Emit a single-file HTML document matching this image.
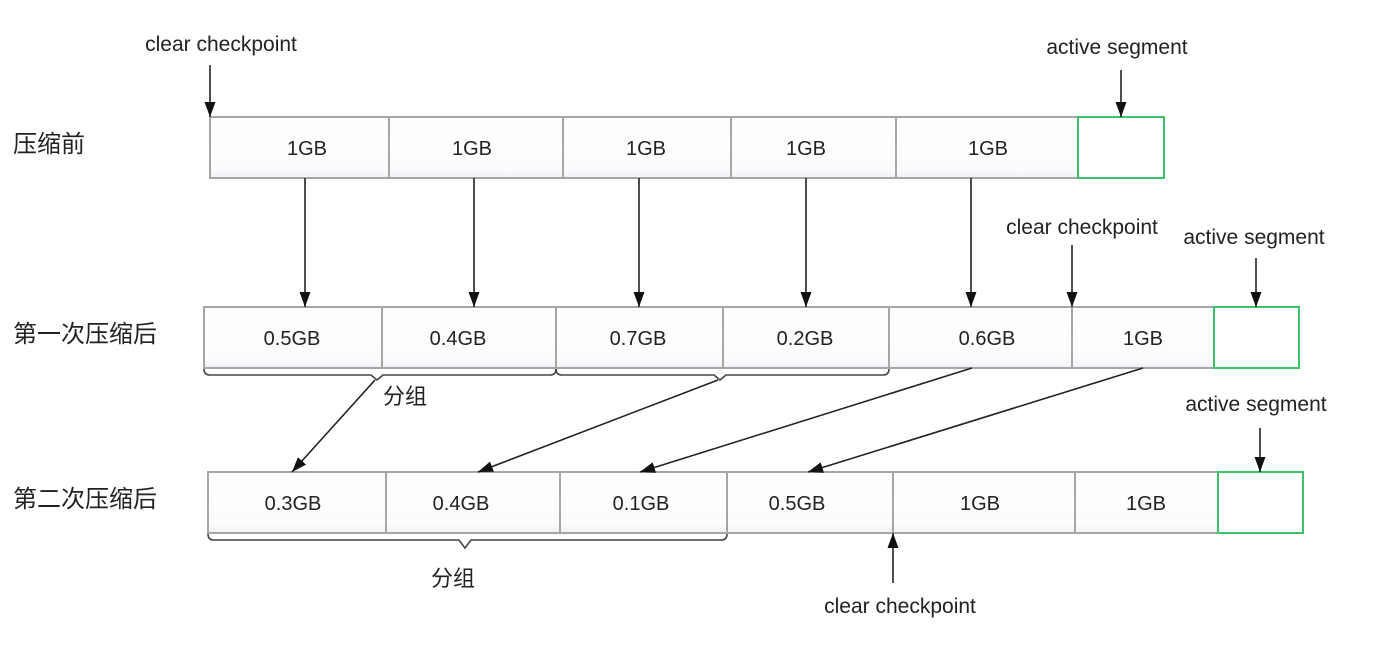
<!DOCTYPE html>
<html><head><meta charset="utf-8"><style>
html,body{margin:0;padding:0;background:#fff;}
svg{display:block;font-family:"Liberation Sans","Noto Sans CJK SC",sans-serif;}
</style></head><body>
<svg id="c" width="1386" height="652" viewBox="0 0 1386 652">
<defs>
<marker id="ah" markerWidth="15" markerHeight="11" refX="15" refY="5.5" orient="auto" markerUnits="userSpaceOnUse" viewBox="0 0 15 11">
<path d="M0,0 L15,5.5 L0,11 Z" fill="#111"/>
</marker>
<linearGradient id="bg" x1="0" y1="0" x2="0" y2="1"><stop offset="0" stop-color="#fff"/><stop offset="0.85" stop-color="#fbfcfd"/><stop offset="1" stop-color="#eef1f5"/></linearGradient>
</defs>
<g id="rows"></g>
<g id="notes"></g>
</svg>
<script>
const rowNames=["压缩前","第一次压缩后","第二次压缩后"];
const rowLabels=[["1GB","1GB","1GB","1GB","1GB"],["0.5GB","0.4GB","0.7GB","0.2GB","0.6GB","1GB"],["0.3GB","0.4GB","0.1GB","0.5GB","1GB","1GB"]];
const rowEdges=[[210,389,563,731,896,1078,1164],[204,382,556,723,889,1072,1214,1299],[208,386,560,727,893,1075,1218,1303]];
const rowText=[[307,472,646,806,988],[292,458,638,805,987,1143],[293,461,641,797,980,1146]];
const rowTop=[117,307,472];
const H=61;
const NS="http://www.w3.org/2000/svg";
const svg=document.getElementById('c');
const rows=document.getElementById('rows');
const notes=document.getElementById('notes');
function mk(tag,attrs,parent){const e=document.createElementNS(NS,tag);for(const k in attrs)e.setAttribute(k,attrs[k]);(parent||svg).appendChild(e);return e;}
rowNames.forEach((n,r)=>{
  const g=mk('g',{},rows);
  
  
  const t=mk('text',{x:13,y:rowTop[r]+35,'font-size':24,fill:'#222'},g);
  t.textContent=n;
  
  
  const ed=rowEdges[r], y=rowTop[r];
  rowLabels[r].forEach((lab,i)=>{
    const rc=mk('rect',{x:ed[i],y:y,width:ed[i+1]-ed[i],height:H,fill:'url(#bg)',stroke:'#a6a6a6','stroke-width':2},g);
    
    
    const tx=mk('text',{x:rowText[r][i],y:y+38,'font-size':20,fill:'#222','text-anchor':'middle'},g);
    tx.textContent=lab;
    
    
  });
  const n2=ed.length;
  const act=mk('rect',{x:ed[n2-2],y:y,width:ed[n2-1]-ed[n2-2],height:H,fill:'#fff',stroke:'#3cc36a','stroke-width':2},g);
  
  
});
function arrow(x1,y1,x2,y2,name){
  const l=mk('line',{x1,y1,x2,y2,stroke:'#222','stroke-width':1.6,'marker-end':'url(#ah)'},notes);
  
  
}
function label(x,y,s,name,anchor,fs){
  const t=mk('text',{x,y,'font-size':fs||21,fill:'#222','text-anchor':anchor||'middle'},notes);
  t.textContent=s;
  
  
}
function brace(x1,x2,tip,y0,y1,name){
  const p=mk('path',{d:`M${x1},${y0} Q${x1},${y0+6} ${x1+6},${y0+6} L${tip-6},${y0+6} L${tip},${y1} L${tip+6},${y0+6} L${x2-6},${y0+6} Q${x2},${y0+6} ${x2},${y0}`,fill:'none',stroke:'#444','stroke-width':1.6},notes);
  
  
}
label(221,51,'clear checkpoint','clear-checkpoint-label-1');
arrow(210,65,210,117,'clear-checkpoint-arrow-1');
label(1117,54,'active segment','active-segment-label-1');
arrow(1121,70,1121,117,'active-segment-arrow-1');
[305,474,639,806,971].forEach((x,i)=>arrow(x,178,x,307,'compaction-arrow-'+(i+1)));
label(1082,234,'clear checkpoint','clear-checkpoint-label-2');
arrow(1072,245,1072,307,'clear-checkpoint-arrow-2');
label(1254,244,'active segment','active-segment-label-2');
arrow(1256,258,1256,307,'active-segment-arrow-2');
brace(204,556,377,369,380,'group-brace-1');
brace(556,889,720,369,380,'group-brace-2');
label(383,404,'分组','group-label-1','start',22);
arrow(375,380,292,472,'merge-arrow-1');
arrow(718,380,478,472,'merge-arrow-2');
arrow(972,368,640,472,'merge-arrow-3');
arrow(1143,368,808,472,'merge-arrow-4');
label(1256,411,'active segment','active-segment-label-3');
arrow(1260,428,1260,472,'active-segment-arrow-3');
brace(208,727,465,534,548,'group-brace-3');
label(453,586,'分组','group-label-2','middle',22);
arrow(893,583,893,533,'clear-checkpoint-arrow-3');
label(900,613,'clear checkpoint','clear-checkpoint-label-3');
</script>
</body></html>
